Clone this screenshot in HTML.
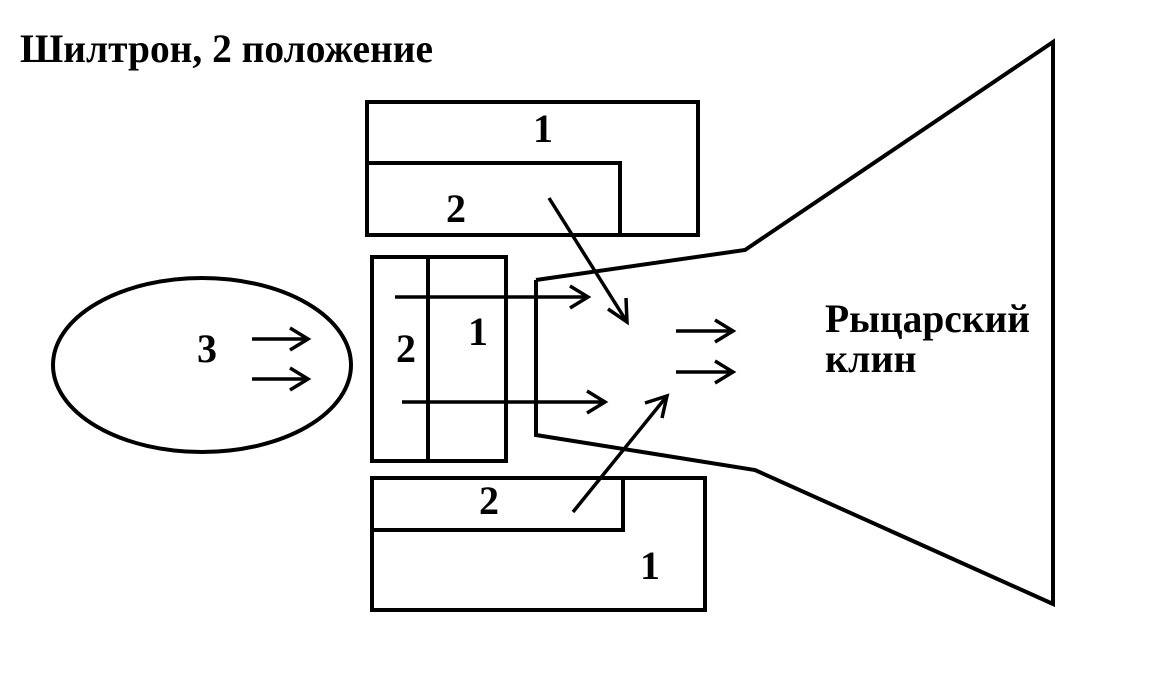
<!DOCTYPE html>
<html><head><meta charset="utf-8"><style>
html,body{margin:0;padding:0;background:#fff;}
svg{display:block;}
text{font-family:"Liberation Serif",serif;font-weight:bold;fill:#000;}
</style></head><body>
<svg width="1150" height="700" viewBox="0 0 1150 700" xmlns="http://www.w3.org/2000/svg">
<text x="20" y="62" font-size="40" textLength="413" lengthAdjust="spacingAndGlyphs">Шилтрон, 2 положение</text>
<g fill="none" stroke="#000" stroke-width="4">
<rect x="367" y="102" width="331" height="133"/>
<polyline points="367,163 620,163 620,235"/>
<rect x="372" y="257" width="134" height="204"/>
<line x1="428" y1="257" x2="428" y2="461"/>
<rect x="372" y="478" width="333" height="132"/>
<polyline points="372,530 623,530 623,478"/>
<ellipse cx="202" cy="365" rx="149" ry="87"/>
<polyline points="536,280 745,250 1053,42 1053,604 755,470 536,435 536,280"/>
<g stroke-width="3.5">
<line x1="252" y1="339" x2="308" y2="339"/><polyline points="290,328 308,339 290,350"/>
<line x1="252" y1="379" x2="308" y2="379"/><polyline points="290,368 308,379 290,390"/>
<line x1="395" y1="297" x2="588" y2="297"/><polyline points="570,286 588,297 570,308"/>
<line x1="402" y1="402" x2="605" y2="402"/><polyline points="587,391 605,402 587,413"/>
<line x1="676" y1="331" x2="733" y2="331"/><polyline points="715,320 733,331 715,342"/>
<line x1="676" y1="372" x2="733" y2="372"/><polyline points="715,361 733,372 715,383"/>
<line x1="549" y1="198" x2="627" y2="322"/><polyline points="608,309 627,322 626,298"/>
<line x1="573" y1="512" x2="667" y2="396"/><polyline points="645,403 667,396 662,418"/>
</g>
</g>
<g font-size="40">
<text x="533" y="142">1</text>
<text x="446" y="222">2</text>
<text x="396" y="362">2</text>
<text x="468" y="345">1</text>
<text x="479" y="514">2</text>
<text x="640" y="579">1</text>
<text x="197" y="362">3</text>
</g>
<text x="825" y="332" font-size="40" textLength="205" lengthAdjust="spacingAndGlyphs">Рыцарский</text>
<text x="825" y="372" font-size="40">клин</text>
</svg>
</body></html>
